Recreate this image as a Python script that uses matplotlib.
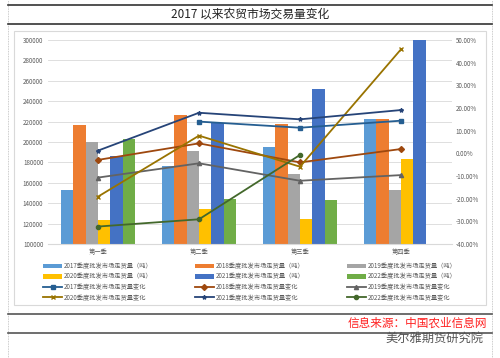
import numpy as np
import matplotlib.pyplot as plt
from matplotlib.patches import Rectangle
from matplotlib.lines import Line2D

plt.rcParams['font.family'] = ['Noto Sans CJK SC', 'DejaVu Sans']

quarters = ['第一季', '第二季', '第三季', '第四季']
years = ['2017', '2018', '2019', '2020', '2021', '2022']

# 季度批发市场走货量（吨）
vol_2017 = [153000, 176000, 195000, 223000]
vol_2018 = [217000, 226000, 218000, 223000]
vol_2019 = [200000, 191000, 169000, 153000]
vol_2020 = [124000, 134000, 125000, 183000]
vol_2021 = [186000, 219000, 252000, 300000]
vol_2022 = [203000, 144000, 143000, np.nan]

# 走货量变化 (%)
chg_2017 = [np.nan, 14.0, 11.3, 14.4]
chg_2018 = [-2.9, 4.4, -4.0, 1.9]
chg_2019 = [-10.7, -4.4, -12.1, -9.6]
chg_2020 = [-19.1, 7.8, -5.9, 45.9]
chg_2021 = [1.2, 17.9, 15.0, 19.1]
chg_2022 = [-32.3, -29.1, -0.7, np.nan]

vols = [vol_2017, vol_2018, vol_2019, vol_2020, vol_2021, vol_2022]
chgs = [chg_2017, chg_2018, chg_2019, chg_2020, chg_2021, chg_2022]

bar_colors = ['#5B9BD5', '#ED7D31', '#A5A5A5', '#FFC000', '#4472C4', '#70AD47']
line_colors = ['#255E91', '#9E480E', '#636363', '#997300', '#264478', '#43682B']
line_markers = ['s', 'D', '^', 'x', '*', 'o']

fig = plt.figure(figsize=(5, 3.58), dpi=100)

# 外框和标题
fig.add_artist(Line2D([0.016, 0.016], [0.0, 1.0], color='#bbbbbb', lw=0.6, ls=(0, (1, 1))))
fig.add_artist(Line2D([0.984, 0.984], [0.0, 1.0], color='#bbbbbb', lw=0.6, ls=(0, (1, 1))))
fig.add_artist(Line2D([0.016, 0.984], [1 - 5 / 358, 1 - 5 / 358], color='#333333', lw=1.2))
fig.add_artist(Line2D([0.016, 0.984], [1 - 24 / 358, 1 - 24 / 358], color='#333333', lw=1.2))
fig.text(0.5, 1 - 14.5 / 358, '2017 以来农贸市场交易量变化', ha='center', va='center',
         fontsize=8.5, color='#222222')
fig.add_artist(Rectangle((14 / 500, 1 - 305 / 358), 472 / 500, 274 / 358, fill=False,
                         edgecolor='#d9d9d9', lw=0.8))
fig.add_artist(Line2D([0.016, 0.984], [1 - 314 / 358, 1 - 314 / 358], color='#555555', lw=1.2))
fig.add_artist(Line2D([0.016, 0.984], [1 - 333 / 358, 1 - 333 / 358], color='#555555', lw=1.2))
fig.text(0.974, 1 - 323 / 358, '信息来源：中国农业信息网', ha='right', va='center',
         fontsize=8.4, color='#ff2020')
fig.text(0.966, 1 - 338.5 / 358, '美尔雅期货研究院', ha='right', va='center',
         fontsize=8.8, color='#555555')

ax = fig.add_axes([47.5 / 500, 1 - 244 / 358, 404 / 500, 204 / 358])
ax2 = ax.twinx()

x = np.arange(len(quarters))
w = 0.122
bar_handles = []
for i, (yr, v) in enumerate(zip(years, vols)):
    b = ax.bar(x + (i - 2.5) * w, v, width=w, color=bar_colors[i],
               label=yr + '季度批发市场走货量（吨）', zorder=2)
    bar_handles.append(b)

line_handles = []
for i, (yr, c) in enumerate(zip(years, chgs)):
    l, = ax2.plot(x, c, color=line_colors[i], marker=line_markers[i], markersize=3,
                  lw=1.3, label=yr + '季度批发市场走货量变化')
    line_handles.append(l)

ax.set_xlim(-0.5, 3.5)
ax.set_ylim(100000, 300000)
ax.set_yticks(np.arange(100000, 300001, 20000))
ax.yaxis.grid(True, color='#d9d9d9', lw=0.6, zorder=0)
ax.set_axisbelow(True)
ax.set_xticks(x)
ax.set_xticklabels(quarters)
ax2.set_ylim(-40, 50)
ax2.set_yticks(np.arange(-40, 51, 10))
ax2.set_yticklabels(['%.2f%%' % t for t in np.arange(-40, 51, 10)])

for a in (ax, ax2):
    for s in a.spines.values():
        s.set_visible(False)
    a.tick_params(length=0, labelsize=4.5, labelcolor='#595959', pad=3)
ax.spines['bottom'].set_visible(True)
ax.spines['bottom'].set_color('#d9d9d9')

# 图例（按行排列）
order = [0, 3, 6, 9, 1, 4, 7, 10, 2, 5, 8, 11]
handles = bar_handles + line_handles
labels = [h.get_label() for h in handles]
fig.legend([handles[k] for k in order], [labels[k] for k in order], ncol=3,
           loc='upper left', bbox_to_anchor=(40 / 500, 1 - 259 / 358), frameon=False,
           fontsize=4.5, labelcolor='#595959', handlelength=3, handletextpad=0.3,
           columnspacing=6.8, labelspacing=0.4, borderpad=0)

fig.savefig('out.png', dpi=100)
